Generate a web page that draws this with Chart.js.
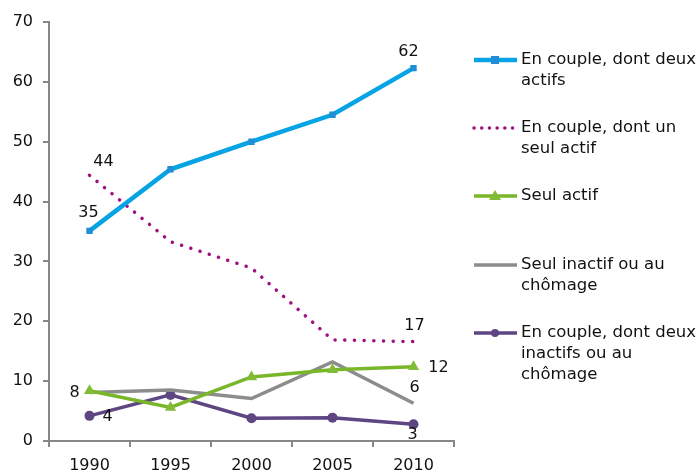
<!DOCTYPE html>
<html><head><meta charset="utf-8">
<script src="https://cdn.jsdelivr.net/npm/chart.js@4/dist/chart.umd.min.js"></script>
<style>html,body{margin:0;padding:0;background:#fff;}#wrap{width:700px;height:473px;}</style>
</head><body><div id="wrap"><canvas id="c" width="700" height="473"></canvas></div>
<script>
const years = ['1990','1995','2000','2005','2010'];
const seriesNames = ['En couple, dont deux actifs','En couple, dont un seul actif','Seul actif','Seul inactif ou au chômage','En couple, dont deux inactifs ou au chômage'];
const coupleDeuxActifs = [35.1, 45.4, 50.0, 54.5, 62.3];
const coupleUnActif = [44.4, 33.3, 28.9, 16.9, 16.6];
const seulActif = [8.4, 5.6, 10.7, 11.9, 12.4];
const seulInactif = [8.1, 8.5, 7.1, 13.2, 6.3];
const coupleDeuxInactifs = [4.2, 7.7, 3.8, 3.9, 2.8];
const yTicks = [0,10,20,30,40,50,60,70];

const FONT = '"DejaVu Sans", Verdana, sans-serif';
const colors = ['#06a4e4','#a0117f','#7ab62a','#8c8c8c','#5d4682'];

// annotation placement (style only): dataset, index, dx, dy
const valueLabels = [
  {ds:0,i:0,dx:-1,dy:-18},{ds:1,i:0,dx:14,dy:-13},{ds:0,i:4,dx:-5,dy:-16},
  {ds:1,i:4,dx:1,dy:-16},{ds:2,i:4,dx:25,dy:1},{ds:3,i:4,dx:1,dy:-15},
  {ds:4,i:4,dx:-1,dy:11},{ds:2,i:0,dx:-15,dy:2},{ds:4,i:0,dx:18,dy:1}
];
const legendItems = [
  {lines:['En couple, dont deux','actifs'], y:60},
  {lines:['En couple, dont un','seul actif'], y:128},
  {lines:['Seul actif'], y:196},
  {lines:['Seul inactif ou au','chômage'], y:265},
  {lines:['En couple, dont deux','inactifs ou au','chômage'], y:333}
];

const extras = {
  id:'extras',
  afterDatasetsDraw(chart){
    const ctx = chart.ctx;
    ctx.save();
    ctx.font = '16px ' + FONT;
    ctx.fillStyle = '#111';
    ctx.textAlign = 'center';
    ctx.textBaseline = 'middle';
    valueLabels.forEach(l=>{
      const meta = chart.getDatasetMeta(l.ds);
      const pt = meta.data[l.i];
      const v = chart.data.datasets[l.ds].data[l.i];
      ctx.fillText(String(Math.round(v)), pt.x + l.dx, pt.y + l.dy);
    });
    // legend
    ctx.font = '16.5px ' + FONT;
    legendItems.forEach((it, k)=>{
      const ds = chart.data.datasets[k];
      const y = it.y;
      ctx.save();
      ctx.strokeStyle = ds.borderColor;
      ctx.lineWidth = ds.borderWidth;
      ctx.lineCap = ds.borderCapStyle || 'butt';
      if (ds.borderDash) ctx.setLineDash([0.1, 7.6]);
      ctx.beginPath(); ctx.moveTo(474, y); ctx.lineTo(517, y); ctx.stroke();
      ctx.setLineDash([]);
      ctx.fillStyle = ds.pointBackgroundColor;
      if (ds.pointStyle === 'rect') { ctx.fillRect(491, y-4, 8, 8); }
      else if (ds.pointStyle === 'triangle') { ctx.beginPath(); ctx.moveTo(495, y-6); ctx.lineTo(501, y+4); ctx.lineTo(489, y+4); ctx.closePath(); ctx.fill(); }
      else if (ds.pointStyle === 'circle' && ds.pointRadius > 0) { ctx.beginPath(); ctx.arc(495, y, 4, 0, Math.PI*2); ctx.fill(); }
      ctx.restore();
      ctx.textAlign = 'left';
      it.lines.forEach((t, j)=> ctx.fillText(t, 521, y + j*21));
    });
    ctx.restore();
  }
};

new Chart(document.getElementById('c'), {
  type:'line',
  data:{
    labels: years,
    datasets:[
      {label:seriesNames[0], data:coupleDeuxActifs, borderColor:colors[0], backgroundColor:'#1f8ed4', pointBackgroundColor:'#1f8ed4', pointBorderColor:'#1f8ed4', borderWidth:4.5, pointStyle:'rect', pointRadius:4.5, pointBorderWidth:0, tension:0},
      {label:seriesNames[1], data:coupleUnActif, borderColor:colors[1], borderWidth:3.5, borderDash:[0.1,9.6], borderCapStyle:'round', pointRadius:0, tension:0, pointBackgroundColor:colors[1]},
      {label:seriesNames[2], data:seulActif, borderColor:colors[2], pointBackgroundColor:'#82bb36', pointBorderColor:'#82bb36', borderWidth:3.5, pointStyle:'triangle', pointRadius:6.5, pointBorderWidth:0, tension:0},
      {label:seriesNames[3], data:seulInactif, borderColor:colors[3], borderWidth:3.5, pointRadius:0, tension:0, pointBackgroundColor:colors[3]},
      {label:seriesNames[4], data:coupleDeuxInactifs, borderColor:colors[4], pointBackgroundColor:colors[4], pointBorderColor:colors[4], borderWidth:3.5, pointStyle:'circle', pointRadius:5, pointBorderWidth:0, tension:0}
    ]
  },
  options:{
    responsive:false, animation:false,
    layout:{padding:{top:22,right:246,left:0,bottom:0}},
    plugins:{legend:{display:false}, tooltip:{enabled:false}},
    scales:{
      x:{
        offset:true,
        grid:{offset:true, drawOnChartArea:false, drawTicks:true, tickLength:6, color:'#878787', lineWidth:2},
        border:{color:'#878787', width:2},
        ticks:{font:{family:FONT,size:16}, color:'#111', padding:9, maxRotation:0},
        afterFit(s){ s.height = 32; }
      },
      y:{
        min:0, max:70,
        afterBuildTicks(s){ s.ticks = yTicks.map(v=>({value:v})); },
        grid:{drawOnChartArea:false, drawTicks:true, tickLength:6, color:'#878787', lineWidth:2},
        border:{color:'#878787', width:2},
        ticks:{font:{family:FONT,size:16}, color:'#111', padding:10},
        afterFit(s){ s.width = 49; }
      }
    }
  },
  plugins:[extras]
});
</script></body></html>
